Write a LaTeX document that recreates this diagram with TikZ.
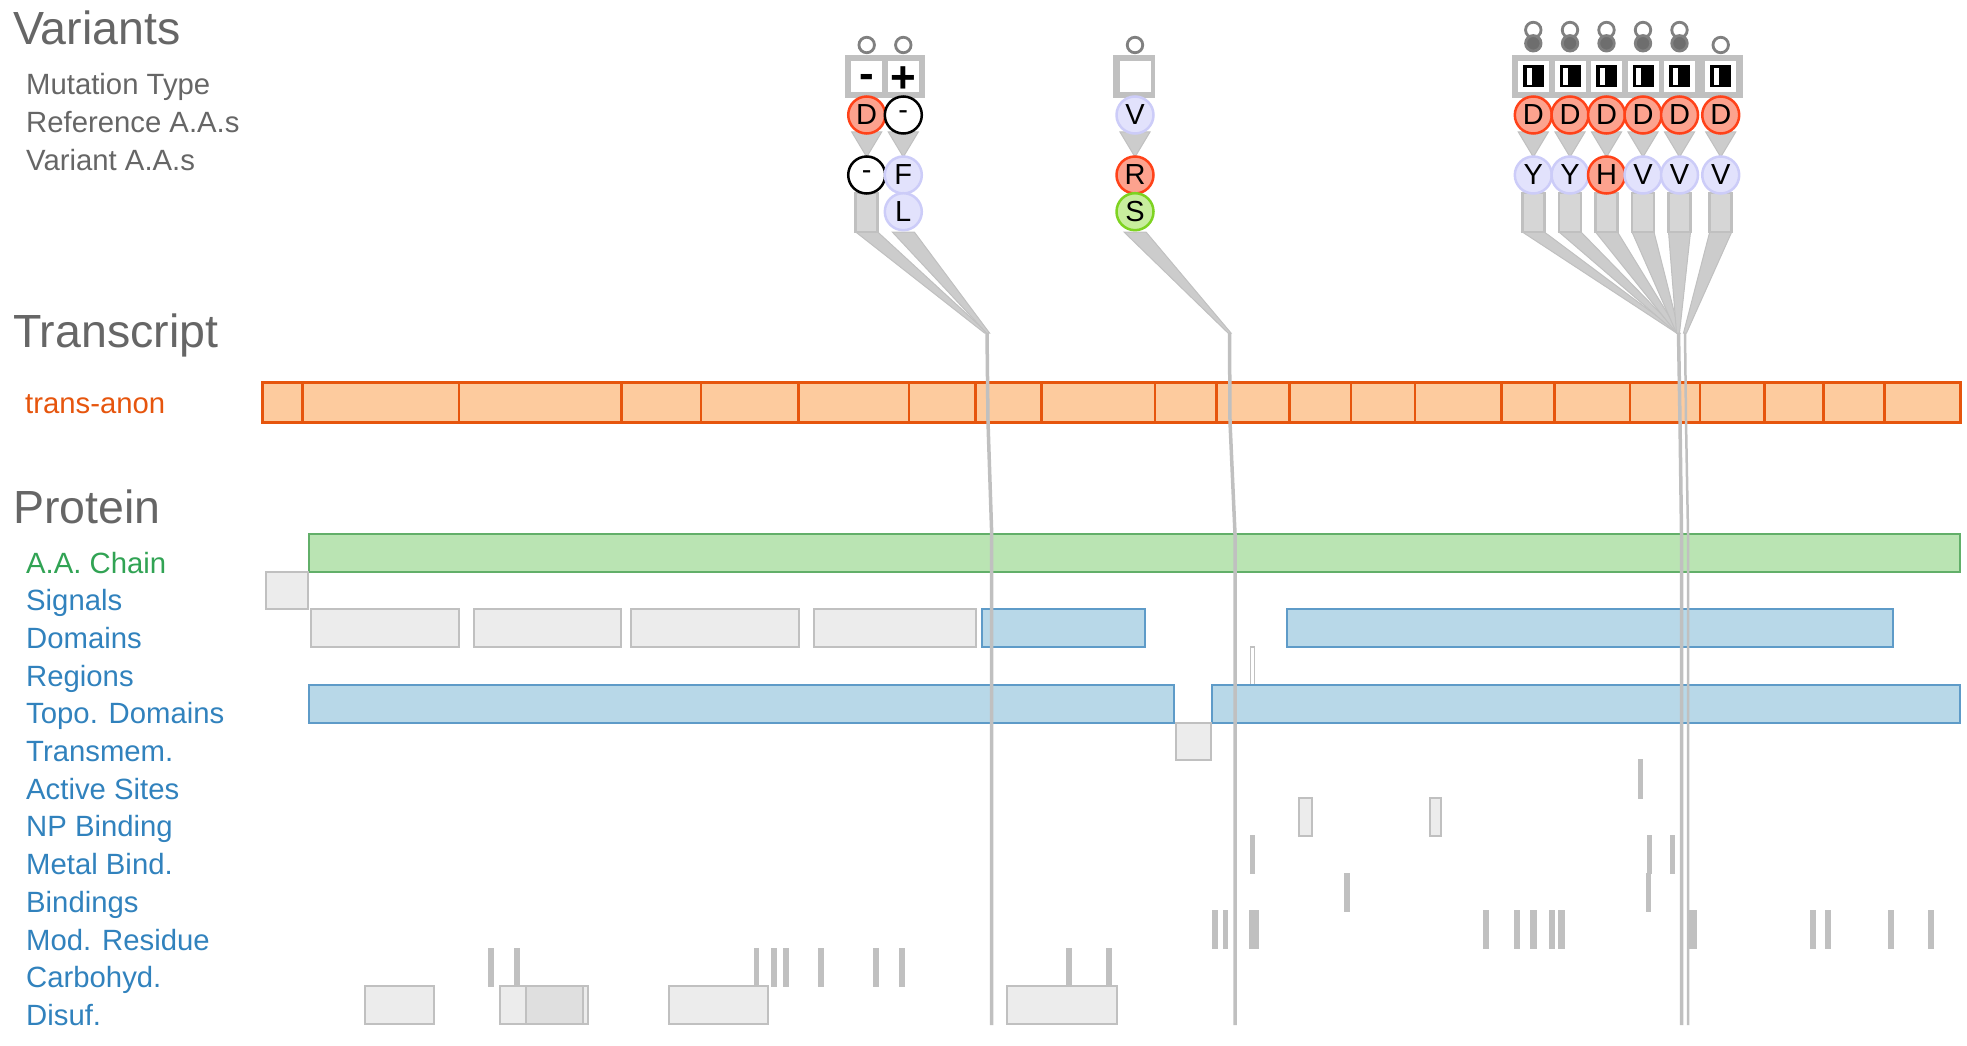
\documentclass[tikz,border=0pt]{standalone}
\usepackage{fontspec}
\setmainfont{Liberation Sans}
\definecolor{titlegray}{HTML}{666666}
\definecolor{txorange}{HTML}{E6550D}
\definecolor{txfill}{HTML}{FDCB9E}
\definecolor{chaingreen}{HTML}{31A354}
\definecolor{chainfill}{HTML}{BAE4B3}
\definecolor{chainline}{HTML}{62AF69}
\definecolor{featblue}{HTML}{3182BD}
\definecolor{domfill}{HTML}{B8D8E8}
\definecolor{domline}{HTML}{5E9BC8}
\definecolor{boxfill}{HTML}{ECECEC}
\definecolor{boxline}{HTML}{C0C0C0}
\definecolor{fanfill}{HTML}{CCCCCC}
\definecolor{refred}{HTML}{FCA28E}
\definecolor{redline}{HTML}{FF4219}
\definecolor{lavfill}{HTML}{E2E2FC}
\definecolor{lavline}{HTML}{CCCCF8}
\definecolor{grnfill}{HTML}{C8EE9E}
\definecolor{grnline}{HTML}{7ED321}
\definecolor{dotline}{HTML}{808080}
\definecolor{dotfill}{HTML}{6E6E6E}
\tikzset{
  sectitle/.style={anchor=base west,inner sep=0,text=titlegray,font=\fontsize{46.5}{50}\selectfont},
  rowlbl/.style={anchor=base west,inner sep=0,text=titlegray,font=\fontsize{29.3}{32}\selectfont},
  protlbl/.style={rowlbl,text=featblue},
  aa/.style={circle,minimum size=37,inner sep=0,line width=2.5,font=\fontsize{29}{30}\selectfont},
  aared/.style={aa,fill=refred,draw=redline},
  aalav/.style={aa,fill=lavfill,draw=lavline},
  aagrn/.style={aa,fill=grnfill,draw=grnline},
  aagap/.style={aa,fill=white,draw=black},
  hdot/.style={circle,minimum size=15.5,inner sep=0,line width=2.8,draw=dotline,fill=white},
  fdot/.style={hdot,fill=dotfill},
  mutcell/.style={fill=white,minimum size=31,inner sep=0,font=\bfseries\fontsize{44}{44}\selectfont},
  exonsep/.style={draw=txorange,line width=2.5},
  chain/.style={draw=chainline,fill=chainfill,line width=2},
  feat/.style={draw=boxline,fill=boxfill,line width=2},
  dom/.style={draw=domline,fill=domfill,line width=2},
  sitebar/.style={draw=boxline,fill=boxline,line width=1.5},
  vline/.style={draw=boxline,line width=3.5,line join=round},
  fan/.style={fill=fanfill,draw=boxline,line width=1}}
\begin{document}
\begin{tikzpicture}[x=1pt,y=-1pt]
\useasboundingbox (0,0) rectangle (1967,1046);

% labels
\node[sectitle] (varT) at (13,45) {Variants};
\node[rowlbl] (mutL) at (26,95) {Mutation Type};
\node[rowlbl] (refL) at (26,133) {Reference A.A.s};
\node[rowlbl] (altL) at (26,170) {Variant A.A.s};
\node[sectitle] (trT) at (13,347) {Transcript};
\node[rowlbl,text=txorange] (trL) at (25,413) {trans-anon};
\node[sectitle] (protT) at (13,523) {Protein};
\node[rowlbl,text=chaingreen] (chainL) at (26,573) {A.A. Chain};
\foreach \lbl [count=\i] in {Signals,Domains,Regions,Topo. Domains,Transmem.,Active Sites,NP Binding,Metal Bind.,Bindings,Mod. Residue,Carbohyd.,Disuf.}
  \node[protlbl] (pl\i) at (26,{573+37.7*\i}) {\lbl};

% transcript
\draw[line width=3,draw=txorange,fill=txfill] (262,382) rectangle (1960,422);
\foreach \s in {302.5,459,621.4,701,798.5,909.2,975.5,1041.5,1154.8,1216.5,1289.3,1351,1415.2,1501.5,1554.6,1629.9,1700.2,1764.4,1823.6,1884.6}
  \draw[exonsep] (\s,382) -- (\s,422);

% protein tracks
\draw[chain] (308.6,534) rectangle (1960,571.7);
\draw[feat] (266,571.7) rectangle (308,609.4);
\foreach \a/\b in {310.6/459.2,473.9/620.5,631.4/799.1,814.4/976.4}
  \draw[feat] (\a,609.4) rectangle (\b,647.1);
\foreach \a/\b in {981.5/1145.4,1287/1892.6}
  \draw[dom] (\a,609.4) rectangle (\b,647.1);
\draw[sitebar,fill=white] (1250.5,647.1) rectangle ++(4,37.7);
\foreach \a/\b in {308.7/1174,1212.4/1960}
  \draw[dom] (\a,684.8) rectangle (\b,722.5);
\draw[feat] (1176,722.5) rectangle (1210.5,760.2);
\draw[sitebar] (1639,760.2) rectangle ++(3.5,37.7);
\foreach \x/\w in {1299/12.5,1430/10.5}
  \draw[feat] (\x,797.9) rectangle ++(\w,37.7);
\foreach \x/\w in {1250.5/3.5,1647.5/4,1670.5/3.5}
  \draw[sitebar] (\x,835.6) rectangle ++(\w,37.7);
\foreach \x/\w in {1345/4.5,1646.5/3.5}
  \draw[sitebar] (\x,873.3) rectangle ++(\w,37.7);
\foreach \x/\w in {1212.8/4.4,1223.8/3.9,1249.8/8.3,1483.6/5,1515/4.6,1530.6/5.6,1550/4.4,1558.8/5,1689.3/7.1,1810.3/4.5,1825.8/4.4,1888.8/4.4,1928.6/4.4}
  \draw[sitebar] (\x,911) rectangle ++(\w,37.7);
\foreach \x/\w in {488.8/4.6,514.6/4.6,754.6/4,771.8/4.6,783.9/4.6,818.9/4.6,874/4.6,899.8/4.6,1066.9/4.6,1107/4.7}
  \draw[sitebar] (\x,948.7) rectangle ++(\w,37.7);
\foreach \a/\b in {364.8/433.7,499.7/587.5,668.5/768.4,1006.6/1117.4}
  \draw[feat] (\a,986.4) rectangle (\b,1024.1);
\draw[feat,fill=boxline!50] (526,986.4) rectangle (583,1024.1);

% variant position lines
\coordinate (apexA) at (987,333);
\coordinate (apexB) at (1229.5,333);
\coordinate (apexC) at (1678.5,333);
\coordinate (apexD) at (1685,333);
\draw[vline] (apexA) -- (988,422) -- (991.7,534) -- (991.7,1025);
\draw[vline] (apexB) -- (1230,422) -- (1235,534) -- (1235,1025);
\draw[vline] (apexC) -- (1680,422) -- (1681.5,534) -- (1681.5,1025);
\draw[vline,line width=2.5] (apexD) -- (1686,422) -- (1688,534) -- (1688,1025);

% fans, stems, arrows
\foreach \x/\ax in {866.7/986,903.3/988,1135/1229.5,1533.3/1678,1570/1678,1606.5/1678,1643/1678,1679.5/1678,1720.7/1685}
  \draw[fan] (\x-11,232) -- (\x+11,232) -- (\ax+1.5,333) -- (\ax-1.5,333) -- cycle;
\foreach \x in {866.7,1533.3,1570,1606.5,1643,1679.5,1720.7}
  \draw[fan,fill=boxfill!30!fanfill,line width=2.5] (\x-11,193) rectangle (\x+11,232);
\foreach \x in {866.7,903.3,1135,1533.3,1570,1606.5,1643,1679.5,1720.7}
  \draw[fan] (\x-15,132) -- (\x+15,132) -- (\x,157) -- cycle;

% mutation type boxes
\fill[boxline] (845,55) rectangle (925,98);
\fill[boxline] (1113.3,55) rectangle (1155,98);
\fill[boxline] (1511.7,55) rectangle (1742.7,98);
\node[mutcell] (mut1) at (866.7,76.5) {\smash{\raisebox{-12.4pt}{-}}};
\node[mutcell] (mut2) at (903.3,76.5) {\smash{\raisebox{-16.5pt}{+}}};
\node[mutcell] (mut3) at (1135,76.5) {};
\foreach \x [count=\i from 4] in {1533.3,1570,1606.5,1643,1679.5,1720.7} {
  \node[mutcell] (mut\i) at (\x,76.5) {};
  \fill[black] (\x-10.5,65) rectangle (\x+10.5,87);
  \fill[white] (\x-6.7,68.5) rectangle (\x-1.7,85);
}

% top dots
\node[hdot] (dot1) at (866.7,45) {};
\node[hdot] (dot2) at (903.3,45) {};
\node[hdot] (dot3) at (1135,45) {};
\foreach \x [count=\i from 4] in {1533.3,1570,1606.5,1643,1679.5} {
  \node[hdot] (dot\i) at (\x,30) {};
  \node[fdot] (sdot\i) at (\x,43.3) {};
}
\node[hdot] (dot9) at (1720.7,45) {};

% reference and variant amino acids
\node[aared] (ref1) at (866.7,115) {D};
\node[aagap] (ref2) at (903.3,115) {-};
\node[aagap] (alt1) at (866.7,175) {-};
\node[aalav] (alt2a) at (903.3,175) {F};
\node[aalav] (alt2b) at (903.3,211.7) {L};
\node[aalav] (ref3) at (1135,115) {V};
\node[aared] (alt3a) at (1135,175) {R};
\node[aagrn] (alt3b) at (1135,211.7) {S};
\foreach \x/\v/\s [count=\i from 4] in {1533.3/Y/aalav,1570/Y/aalav,1606.5/H/aared,1643/V/aalav,1679.5/V/aalav,1720.7/V/aalav} {
  \node[aared] (ref\i) at (\x,115) {D};
  \node[\s] (alt\i) at (\x,175) {\v};
}
\end{tikzpicture}
\end{document}
